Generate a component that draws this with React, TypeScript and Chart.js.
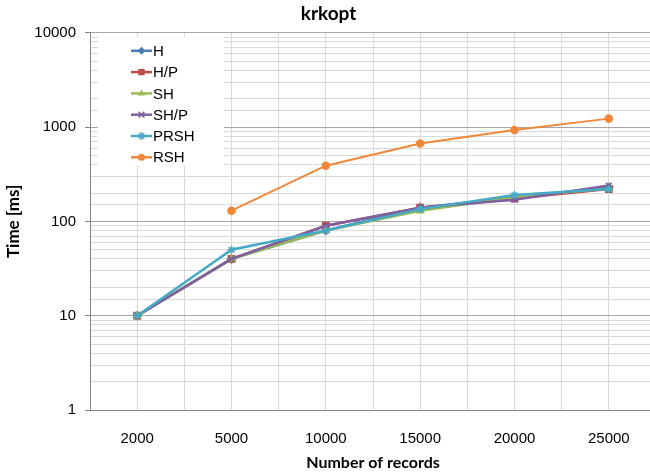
import React, { useEffect, useRef } from 'react';
import { Chart, registerables } from 'chart.js';

Chart.register(...registerables);

const categories = ['2000', '5000', '10000', '15000', '20000', '25000'];
const seriesNames = ['H', 'H/P', 'SH', 'SH/P', 'PRSH', 'RSH'];
const H = [10, 40, 80, 140, 180, 230];
const HP = [10, 40, 90, 140, 175, 220];
const SH = [10, 40, 80, 130, 180, 225];
const SHP = [10, 40, 90, 140, 170, 240];
const PRSH = [10, 50, 80, 135, 190, 220];
const RSH: (number | null)[] = [null, 130, 390, 670, 930, 1230];
const yTickLabels = [1, 10, 100, 1000, 10000];

const seriesValues = [H, HP, SH, SHP, PRSH, RSH];
const seriesColors = ['#4A7EBB', '#BE4B48', '#98B954', '#7D60A0', '#46AAC5', '#F0883A'];
const seriesPoints = ['rectRot', 'rect', 'triangle', 'crossRot', 'star', 'circle'];
const seriesRadius = [4, 4.5, 4, 4, 4, 3.5];

function drawMarker(ctx: CanvasRenderingContext2D, style: string, x: number, y: number, r: number, color: string) {
  ctx.save();
  ctx.fillStyle = color;
  ctx.strokeStyle = color;
  ctx.lineWidth = 1.5;
  ctx.beginPath();
  if (style === 'rectRot') {
    ctx.moveTo(x, y - r); ctx.lineTo(x + r, y); ctx.lineTo(x, y + r); ctx.lineTo(x - r, y); ctx.closePath(); ctx.fill();
  } else if (style === 'rect') {
    const s = r * Math.SQRT1_2;
    ctx.rect(x - s, y - s, 2 * s, 2 * s); ctx.fill();
  } else if (style === 'triangle') {
    ctx.moveTo(x, y - r); ctx.lineTo(x + r * 0.87, y + r * 0.5); ctx.lineTo(x - r * 0.87, y + r * 0.5); ctx.closePath(); ctx.fill();
  } else if (style === 'crossRot') {
    const s = r * Math.SQRT1_2;
    ctx.moveTo(x - s, y - s); ctx.lineTo(x + s, y + s); ctx.moveTo(x + s, y - s); ctx.lineTo(x - s, y + s); ctx.stroke();
  } else if (style === 'star') {
    const s = r * Math.SQRT1_2;
    ctx.moveTo(x - s, y - s); ctx.lineTo(x + s, y + s); ctx.moveTo(x + s, y - s); ctx.lineTo(x - s, y + s);
    ctx.moveTo(x, y - r); ctx.lineTo(x, y + r); ctx.moveTo(x - r, y); ctx.lineTo(x + r, y); ctx.stroke();
  } else {
    ctx.arc(x, y, r, 0, Math.PI * 2); ctx.fill();
  }
  ctx.restore();
}

const insideLegend = {
  id: 'insideLegend',
  afterDraw(chart: any) {
    const ctx: CanvasRenderingContext2D = chart.ctx;
    const a = chart.chartArea;
    ctx.save();
    ctx.fillStyle = '#ffffff';
    ctx.fillRect(a.left + 8, a.top + 4, 126, 129);
    chart.data.datasets.forEach((ds: any, i: number) => {
      const y = a.top + 18 + i * 21.3;
      const x1 = a.left + 41;
      const x2 = a.left + 62;
      ctx.strokeStyle = ds.borderColor;
      ctx.lineWidth = 2.5;
      ctx.beginPath();
      ctx.moveTo(x1, y);
      ctx.lineTo(x2, y);
      ctx.stroke();
      drawMarker(ctx, ds.pointStyle, (x1 + x2) / 2, y, ds.pointRadius, ds.borderColor);
      ctx.fillStyle = '#000';
      ctx.font = '15px "Liberation Sans", Arial, sans-serif';
      ctx.textBaseline = 'middle';
      ctx.textAlign = 'left';
      ctx.fillText(ds.label, x2 + 1, y + 1);
    });
    ctx.restore();
  },
};

const isMajor = (v: number) => yTickLabels.includes(v);

export default function App() {
  const ref = useRef<HTMLCanvasElement>(null);

  useEffect(() => {
    if (!ref.current) return;
    Chart.defaults.font.family = '"Liberation Sans", Arial, sans-serif';
    const datasets = seriesNames.map((name, i) => ({
      label: name,
      data: seriesValues[i]
        .map((v, j) => (v === null ? null : { x: j, y: v }))
        .filter((p) => p !== null),
      borderColor: seriesColors[i],
      backgroundColor: seriesColors[i],
      borderWidth: i === 5 ? 2 : 2.5,
      pointStyle: seriesPoints[i],
      pointRadius: seriesRadius[i],
      pointBorderWidth: 1.5,
      order: seriesNames.length - i,
      tension: 0,
    }));
    const chart = new Chart(ref.current, {
      type: 'line',
      data: { datasets } as any,
      plugins: [insideLegend],
      options: {
        animation: false,
        responsive: true,
        maintainAspectRatio: false,
        events: [],
        layout: { padding: { left: 0, right: 19, top: 0, bottom: 0 } },
        plugins: {
          legend: { display: false },
          tooltip: { enabled: false },
          title: {
            display: true,
            text: 'krkopt',
            color: '#000',
            font: { family: 'Lato, "Liberation Sans", sans-serif', weight: 'bold', size: 19 },
            padding: { top: 2, bottom: 8 },
          },
        },
        scales: {
          x: {
            type: 'linear',
            min: -0.5,
            max: 5.5,
            ticks: {
              stepSize: 0.5,
              autoSkip: false,
              maxRotation: 0,
              includeBounds: false,
              padding: 20,
              color: '#000',
              font: { size: 15 },
              callback: (v: any) => (Number.isInteger(v) && categories[v] !== undefined ? categories[v] : ''),
            },
            grid: { color: '#D9D9D9', drawTicks: false },
            border: { color: '#868686' },
            title: {
              display: true,
              text: 'Number of records',
              color: '#000',
              font: { family: 'Lato, "Liberation Sans", sans-serif', weight: 'bold', size: 16 },
              padding: { top: 4, bottom: 4 },
            },
            afterFit: (s: any) => { s.height = 66; },
          },
          y: {
            type: 'logarithmic',
            min: 1,
            max: 10000,
            ticks: {
              autoSkip: false,
              padding: 9,
              color: '#000',
              font: { size: 15 },
              callback: (v: any) => (isMajor(Number(v)) ? String(v) : ''),
            },
            grid: {
              color: (c: any) => (c.tick && isMajor(c.tick.value) ? '#A6A6A6' : '#D9D9D9'),
              tickLength: 5,
              tickColor: (c: any) => (c.tick && isMajor(c.tick.value) ? '#868686' : 'rgba(0,0,0,0)'),
            },
            border: { color: '#868686' },
            title: {
              display: true,
              text: 'Time [ms]',
              color: '#000',
              font: { family: 'Lato, "Liberation Sans", sans-serif', weight: 'bold', size: 17 },
              padding: { top: 3, bottom: 0 },
            },
            afterFit: (s: any) => { s.width = 90; },
          },
        },
      } as any,
    });
    return () => chart.destroy();
  }, []);

  return (
    <div style={{ position: 'fixed', left: 0, top: 0, width: 650, height: 476, overflow: 'hidden', background: '#fff' }}>
      <div style={{ position: 'relative', width: 676, height: 476 }}>
        <canvas ref={ref} />
      </div>
    </div>
  );
}
